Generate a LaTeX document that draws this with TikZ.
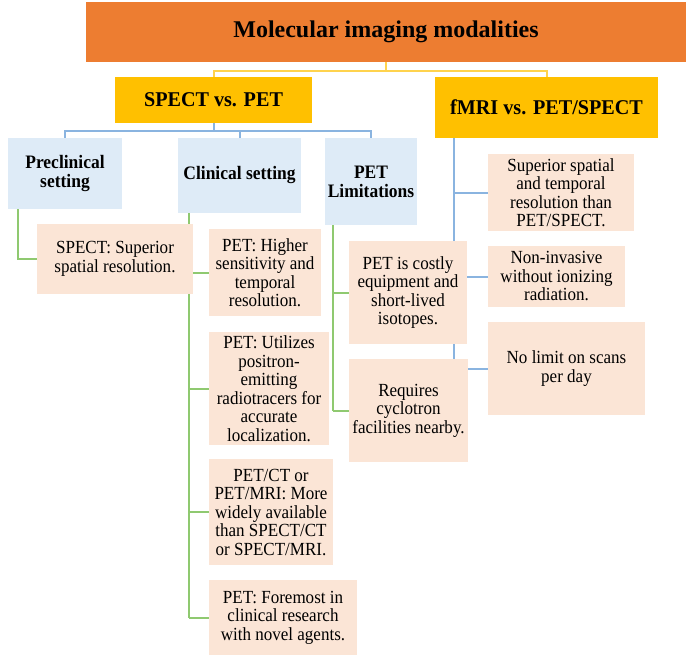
\documentclass[tikz,border=0pt]{standalone}
\usepackage{fontspec}
\setmainfont{Liberation Serif}
\newfontfamily\pinkfont{Liberation Serif}[FakeStretch=0.92]
\newfontfamily\bluefont{Liberation Serif}[FakeStretch=0.92]
\newfontfamily\goldfont{Liberation Serif}[FakeStretch=0.96]
\definecolor{orangec}{HTML}{ED7D31}
\definecolor{goldc}{HTML}{FFC000}
\definecolor{bluefill}{HTML}{DEEBF7}
\definecolor{pinkfill}{HTML}{FBE5D6}
\definecolor{ylink}{HTML}{FFD34E}
\definecolor{blink}{HTML}{8AB4E0}
\definecolor{glink}{HTML}{8FC970}
\tikzset{
  box/.style={rectangle, inner sep=0pt, align=center, text=black},
  titlebox/.style={box, fill=orangec, font=\fontsize{24}{26}\selectfont\bfseries},
  goldbox/.style={box, fill=goldc, font=\goldfont\fontsize{21}{22}\selectfont\bfseries},
  bluebox/.style={box, fill=bluefill, font=\bluefont\fontsize{19}{19}\selectfont\bfseries},
  pinkbox/.style={box, fill=pinkfill, font=\pinkfont\fontsize{18.5}{18.5}\selectfont},
  ylinkstyle/.style={draw=ylink, line width=2pt},
  blinkstyle/.style={draw=blink, line width=2pt},
  glinkstyle/.style={draw=glink, line width=2pt},
}
\begin{document}
\begin{tikzpicture}[x=1pt,y=-1pt]
\useasboundingbox[fill=white] (0,0) rectangle (700,658);

% bus coordinates
\coordinate (ybus) at (0,71);
\coordinate (bbus) at (0,131);
\coordinate (fx) at (454,0);
\coordinate (gx1) at (18,0);
\coordinate (gx2) at (189,0);
\coordinate (gx3) at (333,0);

% upper nodes
\path
 (386,32) node[titlebox, minimum width=600pt, minimum height=60pt] (title) {Molecular imaging modalities}
 (213.5,100) node[goldbox, minimum width=197pt, minimum height=46pt] (spect) {SPECT vs. PET}
 (546.5,107.5) node[goldbox, minimum width=223pt, minimum height=61pt] (fmri) {fMRI vs. PET/SPECT}
 (65,173.5) node[bluebox, minimum width=114pt, minimum height=71pt] (precl) {Preclinical\\setting}
 (239.5,175.5) node[bluebox, minimum width=123pt, minimum height=75pt] (clin) {Clinical setting}
 (371,181.5) node[bluebox, minimum width=92pt, minimum height=87pt] (petlim) {PET\\Limitations};

% connectors from the top
\draw[ylinkstyle] (title.south) -- (title.south |- ybus) -| (spect.north);
\draw[ylinkstyle] (title.south |- ybus) -| (fmri.north);
\draw[blinkstyle] (spect.south) -- (spect.south |- bbus) -| (precl.north);
\draw[blinkstyle] (spect.south |- bbus) -| (petlim.north);
\draw[blinkstyle] (clin.north |- bbus) -- (clin.north);

% centres of the lower boxes
\coordinate (c-spectsup) at (115,259);
\coordinate (c-pethigh) at (265,272.5);
\coordinate (c-petutil) at (269,388.5);
\coordinate (c-petct) at (271,512);
\coordinate (c-petfore) at (283,617.5);
\coordinate (c-costly) at (408,292.5);
\coordinate (c-requires) at (408.5,410.5);
\coordinate (c-superior) at (561,192.5);
\coordinate (c-noninv) at (556.5,276.5);
\coordinate (c-nolimit) at (566.5,368.5);

% green connectors (drawn behind the boxes)
\draw[glinkstyle] (gx1 |- precl.south) |- (37,259);
\draw[glinkstyle] (gx2 |- clin.south) -- (gx2 |- c-petfore);
\draw[glinkstyle] (gx2 |- c-pethigh) -- (209,272.5);
\draw[glinkstyle] (gx2 |- c-petutil) -- (209,388.5);
\draw[glinkstyle] (gx2 |- c-petct) -- (209,512);
\draw[glinkstyle] (gx2 |- c-petfore) -- (209,617.5);
\draw[glinkstyle] (gx3 |- petlim.south) -- (gx3 |- c-requires);
\draw[glinkstyle] (gx3 |- c-costly) -- (349,292.5);
\draw[glinkstyle] (gx3 |- c-requires) -- (349,410.5);

% blue connectors from fMRI
\draw[blinkstyle] (fx |- fmri.south) -- (fx |- c-nolimit);
\draw[blinkstyle] (fx |- c-superior) -- (488,192.5);
\draw[blinkstyle] (fx |- c-noninv) -- (488,276.5);
\draw[blinkstyle] (fx |- c-nolimit) -- (488,368.5);

% lower boxes
\node[pinkbox, minimum width=156pt, minimum height=70pt] (spectsup) at (c-spectsup) {SPECT: Superior\\spatial resolution.};
\node[pinkbox, minimum width=112pt, minimum height=87pt] (pethigh) at (c-pethigh) {PET: Higher\\sensitivity and\\temporal\\resolution.};
\node[pinkbox, minimum width=120pt, minimum height=113pt] (petutil) at (c-petutil) {PET: Utilizes\\positron-\\emitting\\radiotracers for\\accurate\\localization.};
\node[pinkbox, minimum width=124pt, minimum height=106pt] (petct) at (c-petct) {PET/CT or\\PET/MRI: More\\widely available\\than SPECT/CT\\or SPECT/MRI.};
\node[pinkbox, minimum width=148pt, minimum height=75pt] (petfore) at (c-petfore) {PET: Foremost in\\clinical research\\with novel agents.};
\node[pinkbox, minimum width=118pt, minimum height=103pt] (costly) at (c-costly) {PET is costly\\equipment and\\short-lived\\isotopes.};
\node[pinkbox, minimum width=119pt, minimum height=103pt] (requires) at (c-requires) {Requires\\cyclotron\\facilities nearby.};
\node[pinkbox, minimum width=146pt, minimum height=77pt] (superior) at (c-superior) {Superior spatial\\and temporal\\resolution than\\PET/SPECT.};
\node[pinkbox, minimum width=137pt, minimum height=61pt] (noninv) at (c-noninv) {Non-invasive\\without ionizing\\radiation.};
\node[pinkbox, minimum width=157pt, minimum height=93pt] (nolimit) at (c-nolimit) {No limit on scans\\per day};
\end{tikzpicture}
\end{document}
